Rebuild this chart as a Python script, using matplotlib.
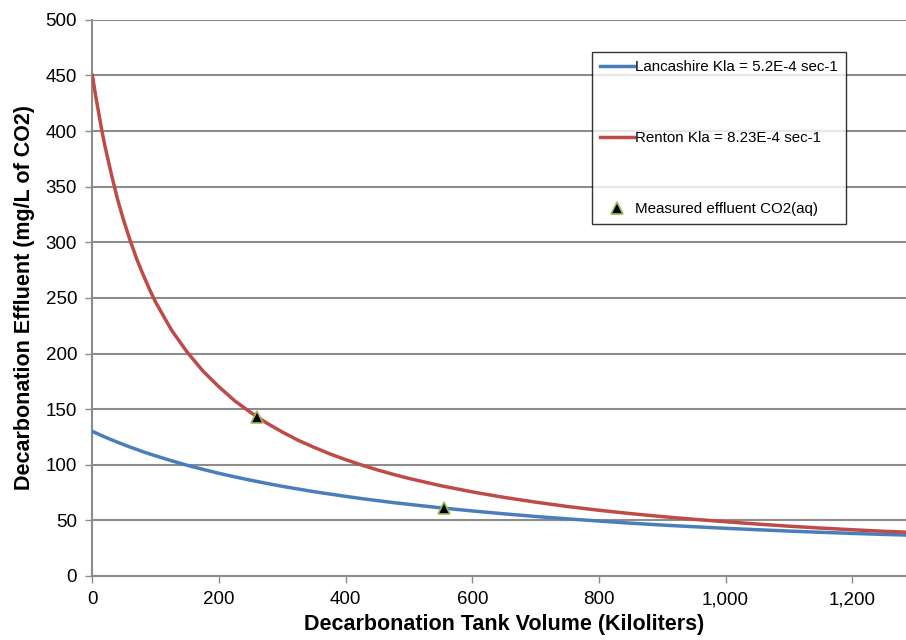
import matplotlib
matplotlib.use("Agg")
import matplotlib.pyplot as plt
from matplotlib.ticker import FuncFormatter

plt.rcParams["font.family"] = ["Liberation Sans", "DejaVu Sans"]

# values
volume = [0, 5, 10, 15, 20, 30, 40, 50, 60, 70, 80, 90, 100, 125, 150, 175,
          200, 225, 250, 275, 300, 325, 350, 375, 400, 425, 450, 475, 500,
          550, 600, 650, 700, 750, 800, 850, 900, 950, 1000, 1050, 1100,
          1150, 1200, 1250, 1285]
renton = [450, 432, 416, 400, 386, 361, 338, 318.5, 301, 285, 271, 258, 246,
          221, 201, 184, 170, 157.4, 147, 137.6, 129.4, 122, 115.7, 109.8,
          104.6, 99.8, 95.4, 91.4, 87.7, 81.2, 75.6, 70.7, 66.4, 62.5, 59.1,
          56.1, 53.4, 51, 48.8, 46.7, 44.8, 43.1, 41.6, 40.2, 39.4]
lancashire = [130, 128.7, 127.4, 126.1, 124.9, 122.5, 120.2, 118, 115.8,
              113.8, 111.7, 109.8, 108, 103.6, 99.5, 95.8, 92.3, 89.1, 86.1,
              83.3, 80.6, 78.2, 75.8, 73.7, 71.6, 69.6, 67.8, 66, 64.4, 61.3,
              58.5, 55.9, 53.5, 51.4, 49.4, 47.5, 45.8, 44.3, 42.9, 41.6,
              40.4, 39.3, 38.3, 37.4, 36.8]
measured_x = [260, 555]
measured_y = [143, 61]

fig = plt.figure(figsize=(9.06, 6.4), dpi=100)
ax = fig.add_axes([0.102, 0.1, 0.898, 0.869])

ax.plot(volume, lancashire, color="#4a7ebb", lw=2.5,
        label="Lancashire Kla = 5.2E-4 sec-1", zorder=3)
ax.plot(volume, renton, color="#be4b48", lw=2.5,
        label="Renton Kla = 8.23E-4 sec-1", zorder=3)
ax.plot(measured_x, measured_y, ls="none", marker="^", ms=8,
        mfc="black", mec="#9bbb59", mew=1.2,
        label="Measured effluent CO2(aq)", zorder=4)

ax.set_xlim(0, 1285)
ax.set_ylim(0, 500)
ax.set_xticks(range(0, 1201, 200))
ax.set_yticks(range(0, 501, 50))
ax.xaxis.set_major_formatter(FuncFormatter(lambda v, p: f"{int(v):,}"))
ax.yaxis.grid(True, color="#8c8c8c", lw=1.5)
ax.set_axisbelow(True)

for s in ("top", "right"):
    ax.spines[s].set_visible(False)
for s in ("left", "bottom"):
    ax.spines[s].set_color("#8c8c8c")
    ax.spines[s].set_linewidth(1.5)
ax.tick_params(axis="both", colors="#8c8c8c", labelcolor="black",
               labelsize=13.5, length=5, width=1)
ax.tick_params(axis="y", pad=6)
ax.tick_params(axis="x", pad=6)

ax.set_xlabel("Decarbonation Tank Volume (Kiloliters)", fontsize=15.5,
              fontweight="bold")
ax.set_ylabel("Decarbonation Effluent (mg/L of CO2)", fontsize=15.5,
              fontweight="bold")
ax.xaxis.set_label_coords(0.506, -0.068)
ax.yaxis.set_label_coords(-0.071, 0.5)

leg = ax.legend(loc="upper left", bbox_to_anchor=(0.614, 0.942),
                fontsize=10.9, frameon=True, fancybox=False,
                labelspacing=3.75, handlelength=2.2, handletextpad=0.1,
                borderpad=0.55, borderaxespad=0)
leg.get_frame().set_edgecolor("black")
leg.get_frame().set_linewidth(1)

fig.savefig("out.png", dpi=100)
